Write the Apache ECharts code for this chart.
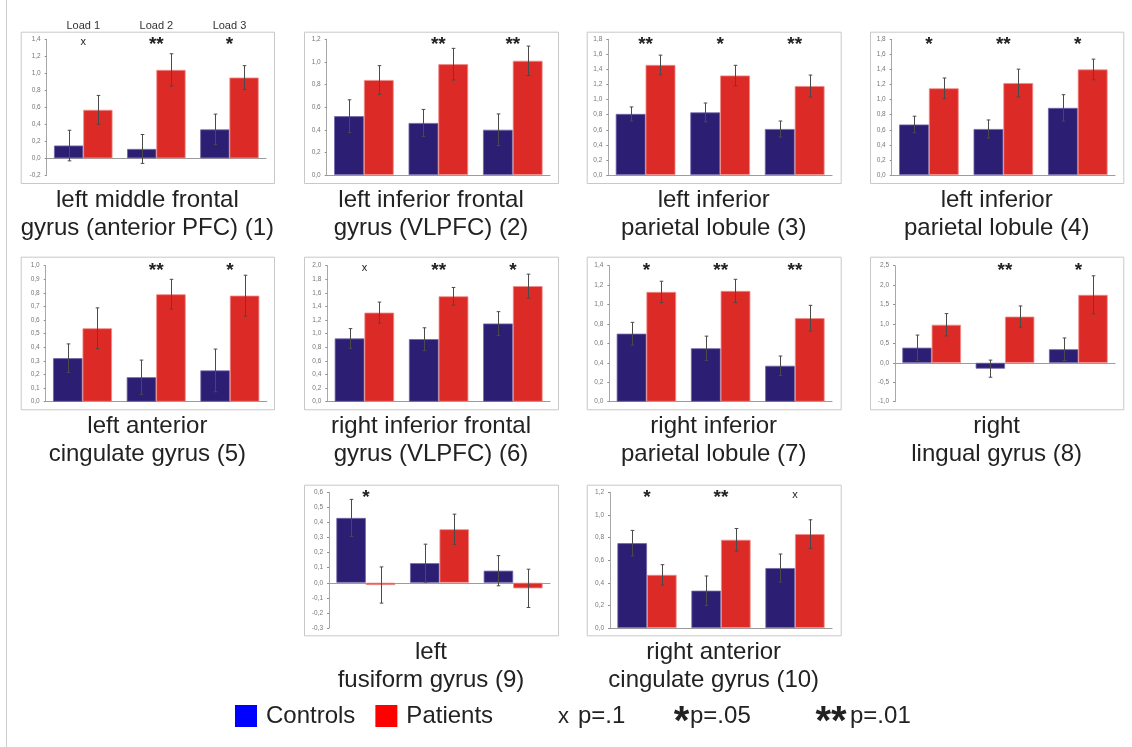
<!DOCTYPE html>
<html><head><meta charset="utf-8">
<script src="https://cdn.jsdelivr.net/npm/echarts@6/dist/echarts.min.js"></script>
<style>html,body{margin:0;padding:0;background:#fff}#c{width:1132px;height:747px}</style>
</head><body><div id="c"></div>
<script>
// ---------------- data ----------------
const loads = ['Load 1', 'Load 2', 'Load 3'];
const regionTitles = [
  ['left middle frontal', 'gyrus (anterior PFC) (1)'],
  ['left inferior frontal', 'gyrus (VLPFC) (2)'],
  ['left inferior', 'parietal lobule (3)'],
  ['left inferior', 'parietal lobule (4)'],
  ['left anterior', 'cingulate gyrus (5)'],
  ['right inferior frontal', 'gyrus (VLPFC) (6)'],
  ['right inferior', 'parietal lobule (7)'],
  ['right', 'lingual gyrus (8)'],
  ['left', 'fusiform gyrus (9)'],
  ['right anterior', 'cingulate gyrus (10)']
];
const controls = [
  [0.15, 0.11, 0.34],
  [0.52, 0.46, 0.40],
  [0.81, 0.83, 0.61],
  [0.67, 0.61, 0.89],
  [0.32, 0.18, 0.23],
  [0.93, 0.92, 1.15],
  [0.70, 0.55, 0.37],
  [0.39, -0.15, 0.35],
  [0.43, 0.13, 0.08],
  [0.75, 0.33, 0.53]
];
const controlsErr = [
  [0.18, 0.17, 0.18],
  [0.145, 0.12, 0.14],
  [0.093, 0.125, 0.106],
  [0.11, 0.12, 0.175],
  [0.105, 0.126, 0.157],
  [0.145, 0.167, 0.174],
  [0.117, 0.125, 0.10],
  [0.325, 0.22, 0.29],
  [0.123, 0.126, 0.10],
  [0.113, 0.13, 0.124]
];
const patients = [
  [0.57, 1.04, 0.95],
  [0.84, 0.98, 1.01],
  [1.46, 1.32, 1.18],
  [1.15, 1.22, 1.40],
  [0.54, 0.79, 0.78],
  [1.31, 1.55, 1.70],
  [1.13, 1.14, 0.86],
  [0.98, 1.19, 1.75],
  [-0.015, 0.355, -0.037],
  [0.47, 0.78, 0.83]
];
const patientsErr = [
  [0.17, 0.19, 0.14],
  [0.127, 0.14, 0.13],
  [0.13, 0.135, 0.146],
  [0.137, 0.184, 0.137],
  [0.15, 0.11, 0.15],
  [0.155, 0.13, 0.176],
  [0.11, 0.12, 0.132],
  [0.287, 0.274, 0.49],
  [0.12, 0.10, 0.127],
  [0.09, 0.10, 0.127]
];
const significance = [
  ['x', '**', '*'],
  ['', '**', '**'],
  ['**', '*', '**'],
  ['*', '**', '*'],
  ['', '**', '*'],
  ['x', '**', '*'],
  ['*', '**', '**'],
  ['', '**', '*'],
  ['*', '', ''],
  ['*', '**', 'x']
];
const yMin  = [-0.2, 0, 0, 0, 0, 0, 0, -1.0, -0.3, 0];
const yMax  = [1.4, 1.2, 1.8, 1.8, 1.0, 2.0, 1.4, 2.5, 0.6, 1.2];
const yStep = [0.2, 0.2, 0.2, 0.2, 0.1, 0.2, 0.2, 0.5, 0.1, 0.2];
const legendNames = ['Controls', 'Patients'];
const pLegend = [['x', 'p=.1'], ['*', 'p=.05'], ['**', 'p=.01']];

// ---------------- layout (pixels) ----------------
const frames = [
  [20.7, 31.7, 274, 183], [304, 31.7, 558, 183], [586.7, 31.7, 840.7, 183], [870, 31.7, 1123.3, 183],
  [20.7, 256.7, 274, 409.3], [304, 256.7, 558, 409.3], [586.7, 256.7, 840.7, 409.3], [870, 256.7, 1123.3, 409.3],
  [304, 484.7, 558, 635.3], [586.7, 484.7, 840.7, 635.3]
];
const plotBoxes = [
  [46.7, 39.3, 266, 175.3], [326.7, 39.3, 550, 175], [608.3, 39.3, 832, 175], [891.7, 39.3, 1115, 175],
  [45.7, 265.7, 266.7, 401.7], [327.3, 265.7, 550, 401.7], [609.3, 265.7, 832, 401.7], [895, 265.7, 1115, 401.7],
  [329, 492.3, 550, 628], [610, 492.3, 832, 628]
];

const FONT = '"Liberation Sans", Arial, sans-serif';
const BLUE = '#2b1e73', RED = '#dc2b27';

const option = {
  animation: false,
  backgroundColor: '#fff',
  grid: [], xAxis: [], yAxis: [], series: [], graphic: [],
  legend: {
    left: 235, top: 704, padding: 0, itemWidth: 22, itemHeight: 22, itemGap: 20,
    icon: 'rect', selectedMode: false,
    data: [
      {name: legendNames[0], itemStyle: {color: '#0000ff', borderWidth: 0}},
      {name: legendNames[1], itemStyle: {color: '#ff0000', borderWidth: 0}}
    ],
    textStyle: {fontSize: 24, color: '#222', fontFamily: FONT, padding: [0, 0, 0, 4]}
  }
};

for (let p = 0; p < 10; p++) {
  const b = plotBoxes[p];
  option.grid.push({left: b[0], top: b[1], width: b[2] - b[0], height: b[3] - b[1], containLabel: false, outerBoundsMode: 'none'});
  option.xAxis.push({
    type: 'category', gridIndex: p, data: loads,
    axisLine: {onZero: true, lineStyle: {color: '#9c9c9c', width: 1.2}},
    axisTick: {show: false}, axisLabel: {show: false}, splitLine: {show: false}
  });
  option.yAxis.push({
    type: 'value', gridIndex: p, min: yMin[p], max: yMax[p], interval: yStep[p],
    axisLine: {show: true, lineStyle: {color: '#a8a8a8', width: 1}},
    axisTick: {show: true, length: 2, lineStyle: {color: '#909090'}},
    axisLabel: {fontSize: 6.5, color: '#777', margin: 6, fontFamily: FONT,
      formatter: v => v.toFixed(1).replace('.', ',')},
    splitLine: {show: false}
  });
  option.series.push({
    type: 'bar', name: legendNames[0], xAxisIndex: p, yAxisIndex: p, data: controls[p],
    barGap: '0%', barCategoryGap: '20%',
    itemStyle: {color: BLUE, borderColor: '#6e66a8', borderWidth: 0.8}
  });
  option.series.push({
    type: 'bar', name: legendNames[1], xAxisIndex: p, yAxisIndex: p, data: patients[p],
    barGap: '0%', barCategoryGap: '20%',
    itemStyle: {color: RED, borderColor: '#f08a88', borderWidth: 0.8}
  });
  // error bars
  option.series.push({
    type: 'custom', xAxisIndex: p, yAxisIndex: p, z: 5, clip: false, silent: true,
    data: loads.map((_, i) => [i, controls[p][i], controlsErr[p][i], patients[p][i], patientsErr[p][i]]),
    renderItem: (params, api) => {
      const i = api.value(0);
      const bw = api.size([1, 0])[0];
      const children = [];
      [[api.value(1), api.value(2), -1], [api.value(3), api.value(4), 1]].forEach(([v, e, s]) => {
        const t = api.coord([i, v + e]);
        const d = api.coord([i, v - e]);
        const x = Math.round(t[0] + s * bw * 0.2) + 0.5;
        const st = {stroke: '#4a4a4a', lineWidth: 1};
        children.push({type: 'line', shape: {x1: x, y1: t[1], x2: x, y2: d[1]}, style: st});
        children.push({type: 'line', shape: {x1: x - 1.8, y1: t[1], x2: x + 1.8, y2: t[1]}, style: st});
        children.push({type: 'line', shape: {x1: x - 1.8, y1: d[1], x2: x + 1.8, y2: d[1]}, style: st});
      });
      return {type: 'group', children};
    }
  });
  // significance markers
  option.series.push({
    type: 'custom', xAxisIndex: p, yAxisIndex: p, z: 6, clip: false, silent: true,
    data: loads.map((_, i) => [i, yMax[p]]),
    renderItem: (params, api) => {
      const s = significance[p][params.dataIndex];
      const pt = api.coord([api.value(0), api.value(1)]);
      if (!s) return {type: 'group', children: []};
      const isX = s === 'x';
      return {
        type: 'text', x: pt[0], y: pt[1] + (isX ? 2.5 : 5),
        style: {text: s, fontFamily: FONT, fontSize: isX ? 11 : 19, fontWeight: isX ? 'normal' : 'bold',
          fill: '#222', align: 'center', verticalAlign: 'middle'}
      };
    }
  });
  // frame
  const f = frames[p];
  option.graphic.push({type: 'rect', silent: true, z: -10,
    shape: {x: f[0] + 0.5, y: f[1] + 0.5, width: f[2] - f[0], height: f[3] - f[1]},
    style: {fill: 'none', stroke: '#c8c8c8', lineWidth: 1}});
  // title lines
  const cx = (f[0] + f[2]) / 2;
  regionTitles[p].forEach((line, k) => {
    option.graphic.push({type: 'text', silent: true, x: cx, y: f[3] + 17.5 + k * 27.5,
      style: {text: line, fontFamily: FONT, fontSize: 24, fill: '#222', align: 'center', verticalAlign: 'middle'}});
  });
}

// top category labels of panel 1
option.xAxis.push({
  type: 'category', gridIndex: 0, position: 'top', data: loads,
  axisLine: {show: false}, axisTick: {show: false}, splitLine: {show: false},
  axisLabel: {fontSize: 11, color: '#333', margin: 8, fontFamily: FONT}
});

// outer left border line
option.graphic.push({type: 'line', silent: true, shape: {x1: 6.5, y1: 0, x2: 6.5, y2: 747},
  style: {stroke: '#cccccc', lineWidth: 1}});

// p-value key
const keyPos = [[563.6, 578], [681.6, 690], [831, 850]];
pLegend.forEach(([sym, txt], k) => {
  const isX = sym === 'x';
  option.graphic.push({type: 'text', silent: true, x: keyPos[k][0], y: isX ? 717 : 723,
    style: {text: sym, fontFamily: FONT, fontSize: isX ? 22 : 40, fontWeight: isX ? 'normal' : 'bold',
      fill: '#222', align: 'center', verticalAlign: 'middle'}});
  option.graphic.push({type: 'text', silent: true, x: keyPos[k][1], y: 716.6,
    style: {text: txt, fontFamily: FONT, fontSize: 24, fill: '#222', align: 'left', verticalAlign: 'middle'}});
});

const chart = echarts.init(document.getElementById('c'), null, {renderer: 'canvas'});
chart.setOption(option);
</script>
</body></html>
